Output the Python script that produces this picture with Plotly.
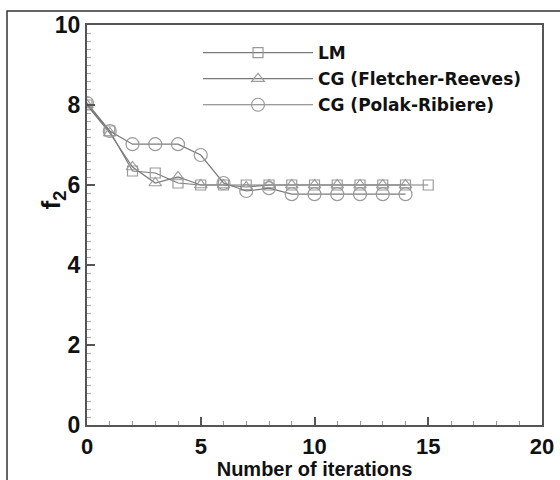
import plotly.graph_objects as go

lm_x = list(range(0, 16))
lm_y = [8.0, 7.35, 6.35, 6.3, 6.05, 6.0, 6.0, 6.0, 6.0, 6.0, 6.0, 6.0, 6.0, 6.0, 6.0, 6.0]

fr_x = list(range(0, 15))
fr_y = [8.0, 7.3, 6.45, 6.05, 6.2, 6.0, 6.0, 5.95, 6.0, 6.0, 6.0, 6.0, 6.0, 6.0, 6.0]

pr_x = list(range(0, 15))
pr_y = [8.05, 7.35, 7.02, 7.02, 7.02, 6.75, 6.05, 5.85, 5.92, 5.77, 5.77, 5.77, 5.77, 5.77, 5.77]

names = ["LM", "CG (Fletcher-Reeves)", "CG (Polak-Ribiere)"]
symbols = ["square-open", "triangle-up-open", "circle-open"]
sizes = [10, 11, 13]

FONT = "Liberation Sans, Arial, sans-serif"
LFONT = "DejaVu Sans, Liberation Sans, sans-serif"
fig = go.Figure()
for i, (xs, ys) in enumerate([(lm_x, lm_y), (fr_x, fr_y), (pr_x, pr_y)]):
    fig.add_trace(go.Scatter(
        x=xs, y=ys, mode="lines+markers", name=names[i], legendgroup=names[i],
        line=dict(color="#7a7a7a", width=1.2),
        marker=dict(symbol=symbols[i], size=sizes[i], color="#9a9a9a",
                    line=dict(color="#9a9a9a", width=1.2)),
    ))

fig.update_layout(
    width=560, height=480,
    margin=dict(l=87, r=18, t=25, b=55),
    paper_bgcolor="white", plot_bgcolor="white",
    font=dict(family=FONT, color="#111111"),
    showlegend=True,
    legend=dict(
        x=0.244, y=0.975, xanchor="left", yanchor="top",
        bgcolor="rgba(0,0,0,0)",
        font=dict(family=LFONT, size=17, weight="bold", color="#111111"),
        itemwidth=110, traceorder="grouped", tracegroupgap=1,
    ),
    shapes=[dict(type="rect", xref="paper", yref="paper",
                 x0=-0.1758, x1=1.2, y0=-0.3, y1=1.035,
                 line=dict(color="#333333", width=1.5), layer="below")],
    annotations=[dict(text="f<sub>2</sub>", xref="paper", yref="paper",
                      x=-0.1165, y=0.5625, showarrow=False, textangle=-90,
                      font=dict(family=FONT, size=26, weight="bold", color="#111111"))],
    yaxis2=dict(overlaying="y", anchor="x", side="left", range=[0, 10], dtick=1,
                ticks="inside", ticklen=8, tickwidth=2, tickcolor="#555555",
                showticklabels=False, showline=False, showgrid=False,
                zeroline=False, automargin=False),
)

fig.update_xaxes(
    range=[0, 20], dtick=5, automargin=False,
    ticks="inside", ticklen=8, tickwidth=2, tickcolor="#555555",
    minor=dict(dtick=1, ticks="inside", ticklen=4, tickwidth=1, tickcolor="#999999"),
    showline=True, linecolor="#555555", linewidth=2, mirror=True,
    showgrid=False, zeroline=False, ticklabelstandoff=1,
    tickfont=dict(family=FONT, size=22, weight="bold", color="#111111"),
    title=dict(text="Number of iterations", standoff=9,
               font=dict(family=FONT, size=20, weight="bold", color="#111111")),
)
fig.update_layout(yaxis=dict(
    range=[0, 10], dtick=2, automargin=False,
    ticks="inside", ticklen=8, tickwidth=2, tickcolor="#555555",
    minor=dict(dtick=0.2, ticks="inside", ticklen=4, tickwidth=1, tickcolor="#aaaaaa"),
    showline=True, linecolor="#555555", linewidth=2, mirror=True,
    showgrid=False, zeroline=False,
    tickfont=dict(family=FONT, size=23, weight="bold", color="#111111"),
))

fig.write_html("out.html")
